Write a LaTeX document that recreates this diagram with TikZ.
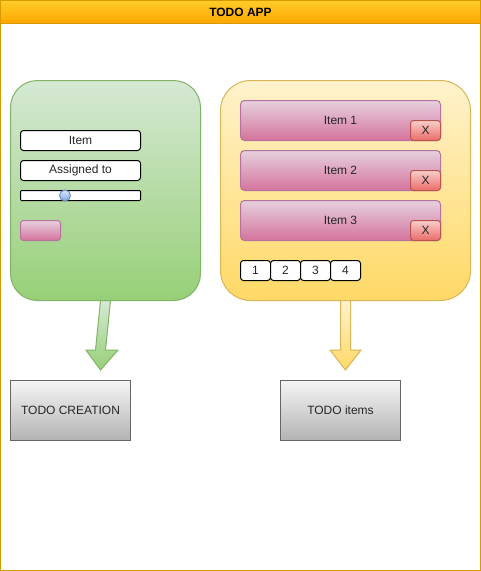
\documentclass[tikz,border=0pt]{standalone}
\usepackage{fontspec}
\setmainfont{Liberation Sans}
\usepackage{tikz}
\usetikzlibrary{calc}
\definecolor{hdtop}{HTML}{FFCD28}
\definecolor{hdbot}{HTML}{FFA500}
\definecolor{hdline}{HTML}{D79B00}
\definecolor{grtop}{HTML}{D5E8D4}
\definecolor{grbot}{HTML}{97D077}
\definecolor{grline}{HTML}{82B366}
\definecolor{ytop}{HTML}{FFF2CC}
\definecolor{ybot}{HTML}{FFD966}
\definecolor{yline}{HTML}{D6B656}
\definecolor{pktop}{HTML}{E6D0DE}
\definecolor{pkbot}{HTML}{D5739D}
\definecolor{pkline}{HTML}{B5739D}
\definecolor{rdtop}{HTML}{F8CECC}
\definecolor{rdbot}{HTML}{EA6B66}
\definecolor{rdline}{HTML}{B85450}
\definecolor{gytop}{HTML}{F5F5F5}
\definecolor{gybot}{HTML}{B3B3B3}
\definecolor{gyline}{HTML}{666666}
\definecolor{bltop}{HTML}{DAE8FC}
\definecolor{blbot}{HTML}{7EA6E0}
\definecolor{blline}{HTML}{6C8EBF}
\tikzset{
	txt/.style={font=\fontsize{12}{14}\selectfont, text=black!85},
	field/.style={draw=black, line width=1pt, fill=white, rounded corners=3pt, minimum width=120pt, minimum height=20pt, inner sep=0pt, txt},
	itembox/.style={draw=pkline, line width=1pt, top color=pktop, bottom color=pkbot, rounded corners=4pt, minimum width=200pt, minimum height=40pt, inner sep=0pt, txt},
	xbox/.style={draw=rdline, line width=1pt, top color=rdtop, bottom color=rdbot, rounded corners=3pt, minimum width=30pt, minimum height=20pt, inner sep=0pt, txt},
	pagebox/.style={draw=black, line width=1pt, fill=white, rounded corners=3pt, minimum width=30pt, minimum height=20pt, inner sep=0pt, txt},
	resultbox/.style={draw=gyline, line width=1pt, top color=gytop, bottom color=gybot, minimum width=120pt, minimum height=60pt, inner sep=0pt, txt}
}
\begin{document}
\begin{tikzpicture}[x=1pt, y=-1pt]
	\useasboundingbox (0,0) rectangle (481,571);
	%\draw[step=10pt, black!20!white] (0,0) grid (481,571);
	\draw[hdline, line width=1pt, fill=white] (0.5,0.5) rectangle (480.5,570.5);
	\draw[hdline, line width=1pt, top color=hdtop, bottom color=hdbot] (0.5,0.5) rectangle (480.5,23.5);
	\node[txt, font=\fontsize{12}{14}\selectfont\bfseries, text=black] (title) at (240.5,12.5) {TODO APP};
	% creation panel
	\draw[grline, line width=1pt, top color=grtop, bottom color=grbot, rounded corners=27pt] (10.5,80.5) rectangle (200.5,300.5);
	\coordinate (left) at (105.5,300.5);
	\node[field] (item) at (80.5,140.5) {Item};
	\node[field] (assigned) at (80.5,170.5) {Assigned to};
	\node[field, rounded corners=1pt, minimum height=10pt] (slider) at (80.5,195.5) {};
	\shade[draw=blline, line width=1pt, top color=bltop, bottom color=blbot] (65,195.5) circle (5.5pt);
	\node[itembox, rounded corners=3pt, minimum width=40pt, minimum height=20pt] (btn) at (40.5,230.5) {};
	% items panel
	\draw[yline, line width=1pt, top color=ytop, bottom color=ybot, rounded corners=30pt] (220.5,80.5) rectangle (470.5,300.5);
	\coordinate (right) at (345.5,300.5);
	\foreach \i in {1,2,3} {
		\node[itembox] (row\i) at (340.5,70.5+50*\i) {Item \i};
		\node[xbox, anchor=south east] (x\i) at (row\i.south east) {X};
	}
	\foreach \p in {1,2,3,4} {
		\node[pagebox] (page\p) at (225.5+30*\p,270.5) {\p};
	}
	% results
	\node[resultbox] (creation) at (70.5,410.5) {TODO CREATION};
	\node[resultbox] (items) at (340.5,410.5) {TODO items};
	% block arrows
	\draw[grline, line width=1pt, top color=grtop, bottom color=grbot, line join=miter]
		($(left)+(5,0)$) -- ($(creation.north)+(35,-30)$) -- ($(creation.north)+(47.5,-30)$)
		-- ($(creation.north)+(30,-10)$) -- ($(creation.north)+(15.5,-30)$) -- ($(creation.north)+(25,-30)$)
		-- ($(left)-(5,0)$) -- cycle;
	\draw[yline, line width=1pt, top color=ytop, bottom color=ybot, line join=miter]
		($(right)+(5,0)$) -- ($(items.north)+(10,-30)$) -- ($(items.north)+(20.5,-30)$)
		-- ($(items.north)+(5,-10)$) -- ($(items.north)+(-10.5,-30)$) -- ($(items.north)+(0,-30)$)
		-- ($(right)-(5,0)$) -- cycle;
\end{tikzpicture}
\end{document}
